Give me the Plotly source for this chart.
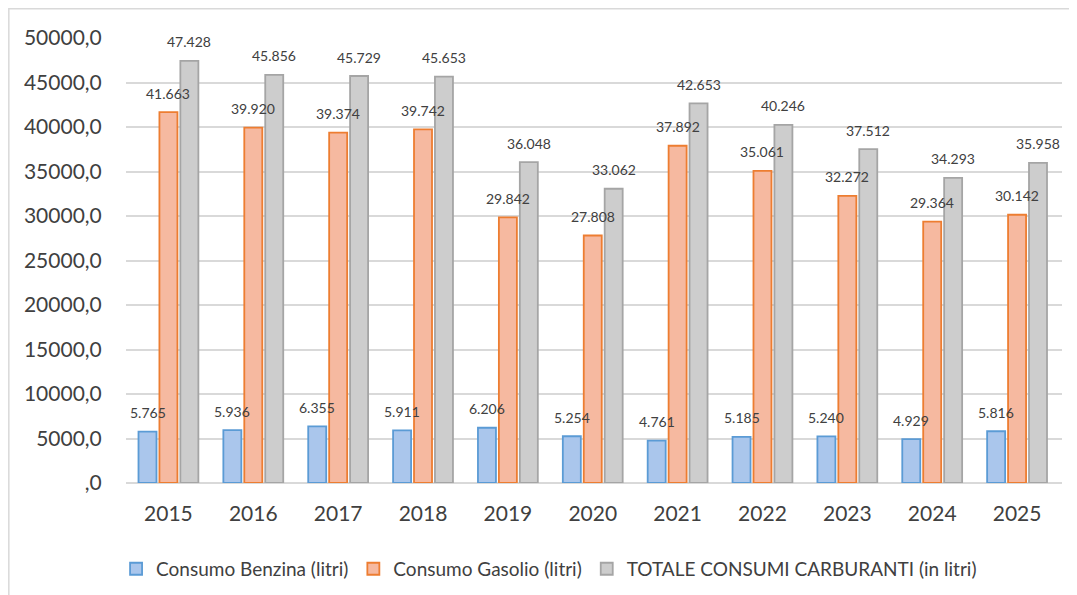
import plotly.graph_objects as go

years = ["2015", "2016", "2017", "2018", "2019", "2020", "2021", "2022", "2023", "2024", "2025"]
benzina = [5765, 5936, 6355, 5911, 6206, 5254, 4761, 5185, 5240, 4929, 5816]
gasolio = [41663, 39920, 39374, 39742, 29842, 27808, 37892, 35061, 32272, 29364, 30142]
totale = [47428, 45856, 45729, 45653, 36048, 33062, 42653, 40246, 37512, 34293, 35958]
names = ["Consumo Benzina (litri)", "Consumo Gasolio (litri)", "TOTALE CONSUMI CARBURANTI (in litri)"]
ytick_vals = [0, 5000, 10000, 15000, 20000, 25000, 30000, 35000, 40000, 45000, 50000]
ytick_text = [",0", "5000,0", "10000,0", "15000,0", "20000,0", "25000,0", "30000,0",
              "35000,0", "40000,0", "45000,0", "50000,0"]

fills = ["#AAC6EC", "#F6B9A0", "#CDCDCD"]
lines = ["#5B9BD5", "#ED7D31", "#A5A5A5"]
FONT = "Lato"
TXT = "#404040"
BARGAP = 0.26

def fmt(v):
    return f"{v:,}".replace(",", ".")

fig = go.Figure()
series = [benzina, gasolio, totale]
for i, (vals, nm) in enumerate(zip(series, names)):
    fig.add_trace(go.Bar(
        x=years, y=vals, name=nm,
        marker=dict(color=fills[i], line=dict(color=lines[i], width=1.8)),
    ))

slot = (1 - BARGAP) / 3
annotations = []
for i, vals in enumerate(series):
    for j, v in enumerate(vals):
        annotations.append(dict(
            x=j + (i - 1) * slot, y=v, xref="x", yref="y",
            text=fmt(v), showarrow=False, yanchor="middle", yshift=19,
            font=dict(family=FONT, size=14, color=TXT),
        ))

fig.update_layout(
    width=1077, height=595,
    margin=dict(l=118, r=23, t=30, b=120),
    paper_bgcolor="white", plot_bgcolor="white",
    barmode="group", bargap=BARGAP, bargroupgap=0.14,
    font=dict(family=FONT, color=TXT),
    annotations=annotations,
    showlegend=True,
    legend=dict(orientation="h", x=0.452, xanchor="center", y=-0.193, yanchor="middle",
                font=dict(family=FONT, size=19, color=TXT), traceorder="normal"),
    xaxis=dict(type="category", showgrid=False, showline=False, ticks="outside",
               ticklen=12, tickcolor="rgba(0,0,0,0)",
               tickfont=dict(family=FONT, size=21, color=TXT)),
    yaxis=dict(range=[0, 50000], tickvals=ytick_vals, ticktext=ytick_text,
               showgrid=True, gridcolor="#D9D9D9", gridwidth=1.5,
               zeroline=True, zerolinecolor="#D9D9D9", zerolinewidth=1.5,
               showline=False, ticks="outside", ticklen=19, tickcolor="rgba(0,0,0,0)",
               tickfont=dict(family=FONT, size=21, color=TXT)),
    shapes=[dict(type="rect", xref="paper", yref="paper",
                 x0=-0.1252, x1=1.2, y0=-0.6, y1=1.066,
                 line=dict(color="#D9D9D9", width=1.5), layer="below")],
)

fig.write_html("out.html")
